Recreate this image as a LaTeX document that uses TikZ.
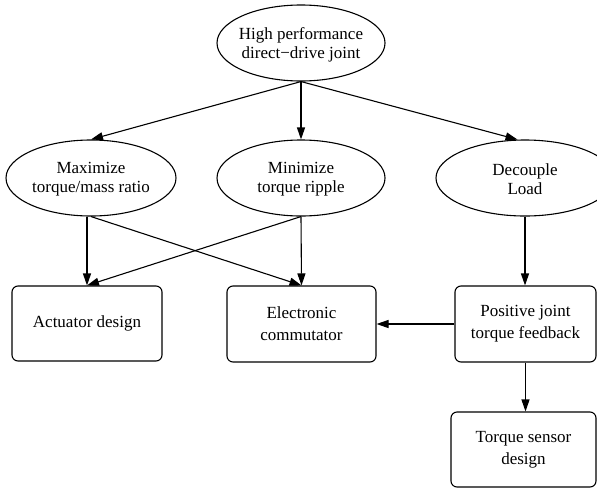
\documentclass[tikz,border=0pt]{standalone}
\usepackage{fontspec}
\setmainfont{Liberation Serif}
\usetikzlibrary{shapes.geometric,arrows.meta}
\begin{document}
\begin{tikzpicture}[x=1pt,y=-1pt,
  ell/.style={draw,ellipse,inner sep=0pt,line width=1.1pt},
  lbl/.style={align=center,font=\fontsize{17}{19.5}\selectfont,inner sep=0pt},
  boxnode/.style={draw,rounded corners=6pt,align=center,font=\fontsize{17}{22}\selectfont,line width=1.1pt,inner sep=0pt},
  arr/.style={-{Triangle[length=12pt,width=8pt]},line width=1.1pt}]
\useasboundingbox (0,0) rectangle (597,488);
% ellipses
\node[ell,minimum width=168pt,minimum height=76pt] (top) at (301,43) {};
\node[lbl] (topt) at (301,45) {High performance\\direct−drive joint};
\node[ell,minimum width=170pt,minimum height=76pt] (max) at (91,178) {};
\node[lbl] (maxt) at (91,179) {Maximize\\torque/mass ratio};
\node[ell,minimum width=168pt,minimum height=76pt] (min) at (301,178) {};
\node[lbl] (mint) at (301,179) {Minimize\\torque ripple};
\node[ell,minimum width=178pt,minimum height=76pt] (dec) at (525,178) {};
\node[lbl] (dect) at (525,179) {Decouple\\Load};
% boxes
\node[boxnode,minimum width=150pt,minimum height=75pt] (act) at (87,323.5) {Actuator design};
\node[boxnode,minimum width=149pt,minimum height=76pt] (elec) at (301.5,324) {Electronic\\commutator};
\node[boxnode,minimum width=141pt,minimum height=76pt] (pos) at (525.5,324) {Positive joint\\torque feedback};
\node[boxnode,minimum width=145pt,minimum height=75pt] (sens) at (523.5,449.5) {Torque sensor\\design};
% edges
\draw[arr] (top.south) -- (max.north);
\draw[arr] (top.south) -- (min.north);
\draw[arr] (top.south) -- (dec.101);
\draw[arr] (max.south -| act.north) -- (act.north);
\draw[arr] (max.south) -- (elec.north);
\draw[arr] (min.south) -- (act.north);
\draw[arr] (min.south) -- (elec.north);
\draw[arr] (dec.south) -- (dec.south |- pos.north);
\draw[arr] (pos.west) -- (elec.east);
\draw[arr] (pos.south) -- (pos.south |- sens.north);
\end{tikzpicture}
\end{document}
